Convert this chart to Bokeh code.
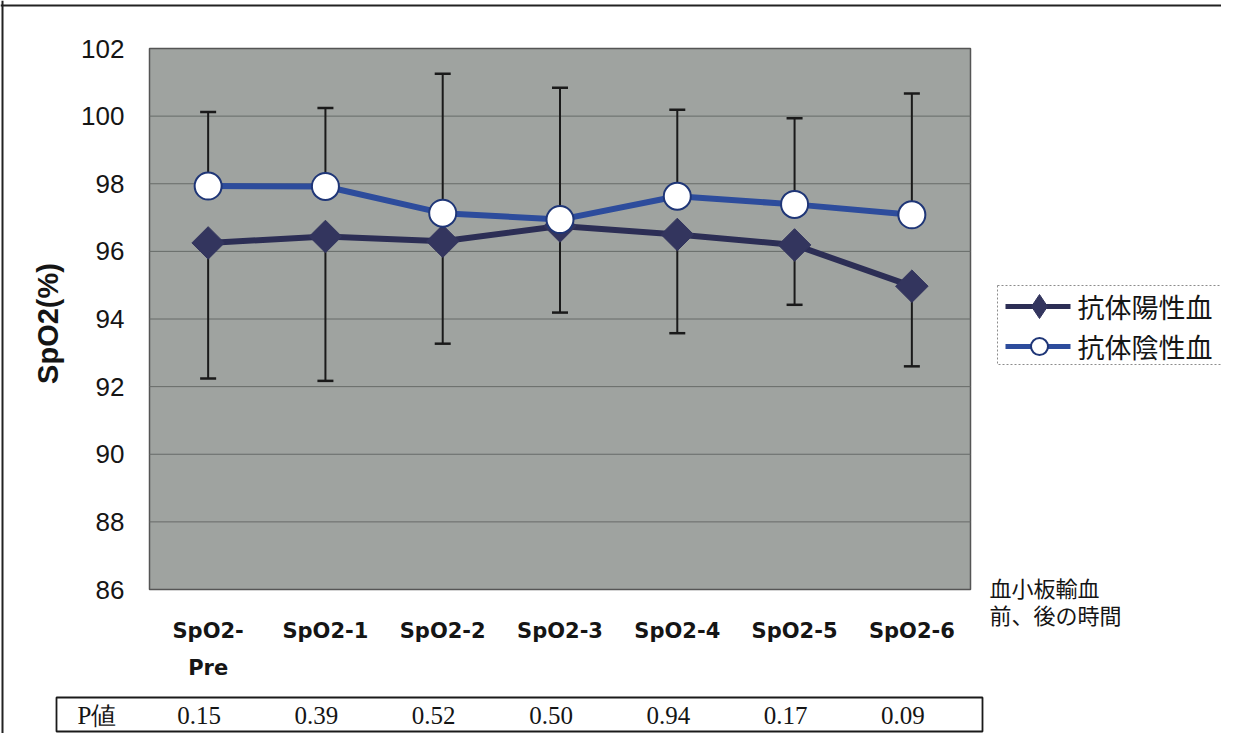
import math
from bokeh.plotting import figure
from bokeh.models import BoxAnnotation, Range1d, Span
from bokeh.core.properties import value
from bokeh.embed import file_html
from bokeh.resources import INLINE

# ---- data ----
categories = ["SpO2-\nPre", "SpO2-1", "SpO2-2", "SpO2-3", "SpO2-4", "SpO2-5", "SpO2-6"]
pos_mean = [96.25, 96.44, 96.30, 96.75, 96.50, 96.19, 94.97]
pos_lower = [92.24, 92.17, 93.27, 94.19, 93.58, 94.42, 92.60]
neg_mean = [97.93, 97.92, 97.13, 96.94, 97.63, 97.39, 97.08]
neg_upper = [100.12, 100.24, 101.25, 100.84, 100.19, 99.94, 100.67]
p_values = ["0.15", "0.39", "0.52", "0.50", "0.94", "0.17", "0.09"]
y_ticks = [86, 88, 90, 92, 94, 96, 98, 100, 102]
series_names = ["抗体陽性血", "抗体陰性血"]
x_title = ["血小板輸血", "前、後の時間"]
y_title = "SpO2(%)"
p_label = "P値"

# ---- layout (canvas pixels) ----
W, H = 1221, 733
PX0, PX1, PY0, PY1 = 149, 970, 48, 589   # plot-area edges on the canvas
n = len(categories)
XS = n / (PX1 - PX0)
YS = (y_ticks[-1] - y_ticks[0]) / (PY1 - PY0)


def cx(px):
    return (px - PX0) * XS


def cy(py):
    return y_ticks[-1] - (py - PY0) * YS


centers = [i + 0.5 for i in range(n)]

POS_LINE = "#2c2e55"
POS_MARK = "#33355e"
NEG_LINE = "#2d4c9c"
NEG_EDGE = "#1f3677"
BG = "#9fa3a0"
INK = "#151515"

p = figure(width=W, height=H, output_backend="svg", toolbar_location=None,
           x_range=Range1d(cx(0), cx(W)), y_range=Range1d(cy(H), cy(0)),
           x_axis_location=None, y_axis_location=None,
           min_border=0, min_border_left=0, min_border_right=0,
           min_border_top=0, min_border_bottom=0)
p.xgrid.visible = False
p.ygrid.visible = False
p.outline_line_color = None
p.background_fill_color = "white"
p.border_fill_color = "white"

# outer chart frame: only its left and top edges fall inside the window
p.add_layout(Span(location=cy(5), dimension="width", line_color="#222222", line_width=2))
p.add_layout(Span(location=cx(2), dimension="height", line_color="#222222", line_width=2))

# plot area + gridlines
p.quad(left=[0], right=[n], bottom=[y_ticks[0]], top=[y_ticks[-1]],
       fill_color=BG, line_color="#555555", line_width=1.5)
inner = y_ticks[1:-1]
p.segment(x0=[0] * len(inner), x1=[n] * len(inner), y0=inner, y1=inner,
          line_color="#676b68", line_width=1)

# error bars
p.segment(x0=centers, x1=centers, y0=pos_mean, y1=pos_lower, line_color="#1a1a1a", line_width=2)
p.scatter(centers, pos_lower, marker="dash", size=16, line_color="#1a1a1a", line_width=2.5)
p.segment(x0=centers, x1=centers, y0=neg_mean, y1=neg_upper, line_color="#1a1a1a", line_width=2)
p.scatter(centers, neg_upper, marker="dash", size=16, line_color="#1a1a1a", line_width=2.5)

# series
p.line(centers, pos_mean, line_color=POS_LINE, line_width=6)
p.scatter(centers, pos_mean, marker="square", angle=math.pi / 4, size=23,
          fill_color=POS_MARK, line_color=POS_MARK)
p.line(centers, neg_mean, line_color=NEG_LINE, line_width=6)
p.scatter(centers, neg_mean, marker="circle", size=27,
          fill_color="white", line_color=NEG_EDGE, line_width=2)

# y axis tick labels and title
p.text(x=[0] * len(y_ticks), y=y_ticks, text=[str(t) for t in y_ticks],
       x_offset=-25, text_align="right", text_baseline="middle",
       text_font=value("Liberation Sans"), text_font_size="26px", text_color=INK)
p.text(x=[cx(47)], y=[cy(323)], text=[y_title], angle=math.pi / 2,
       text_align="center", text_baseline="middle",
       text_font=value("Liberation Sans"), text_font_size="29px",
       text_font_style="bold", text_color=INK)

# x axis category labels
p.text(x=centers, y=[y_ticks[0]] * n, text=categories, y_offset=29,
       text_align="center", text_baseline="top", text_line_height=1.55,
       text_font=value("DejaVu Sans"), text_font_size="21px",
       text_font_style="bold", text_color=INK)

# x axis title at right of the plot area
p.text(x=[cx(989)] * 2, y=[cy(586), cy(613)], text=x_title,
       text_align="left", text_baseline="middle",
       text_font=value("Noto Sans CJK JP"), text_font_size="22px", text_color=INK)

# legend (framed key at the right of the plot area)
p.quad(left=[cx(997)], right=[cx(W + 10)], top=[cy(285)], bottom=[cy(364)],
       fill_color="white", line_color="#8c8c8c", line_width=1, line_dash="2 2")
row_y = [cy(306), cy(346)]
p.segment(x0=[cx(1005)] * 2, x1=[cx(1070)] * 2, y0=row_y, y1=row_y,
          line_color=[POS_LINE, NEG_LINE], line_width=5)
p.scatter([cx(1039)], [row_y[0]], marker="diamond", size=24,
          fill_color=POS_MARK, line_color=POS_MARK)
p.scatter([cx(1039)], [row_y[1]], marker="circle", size=17,
          fill_color="white", line_color=NEG_EDGE, line_width=2)
p.text(x=[cx(1077)] * 2, y=row_y, text=series_names,
       text_align="left", text_baseline="middle",
       text_font=value("Noto Sans CJK JP"), text_font_size="27px", text_color=INK)

# P-value table
p.add_layout(BoxAnnotation(left=56, right=982, top=697, bottom=731,
                           left_units="canvas", right_units="canvas",
                           top_units="canvas", bottom_units="canvas",
                           fill_alpha=0, line_color="#1a1a1a", line_alpha=1, line_width=1.8))
p.text(x=[cx(77)], y=[cy(715)], text=[p_label], text_align="left", text_baseline="middle",
       text_font=value("Liberation Serif"), text_font_size="25px", text_color=INK)
p.text(x=centers, y=[cy(715)] * n, text=p_values, x_offset=-9,
       text_align="center", text_baseline="middle",
       text_font=value("Liberation Serif"), text_font_size="25px", text_color=INK)

open("out.html", "w").write(file_html(p, INLINE))
